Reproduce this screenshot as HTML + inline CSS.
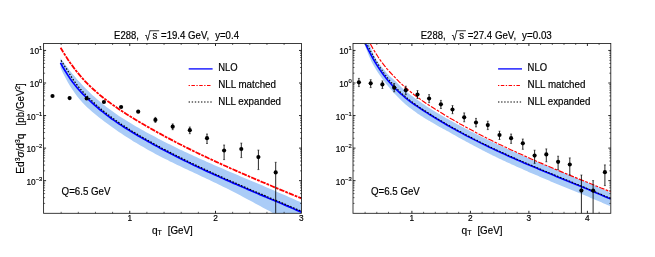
<!DOCTYPE html>
<html><head><meta charset="utf-8"><title>plot</title>
<style>html,body{margin:0;padding:0;background:#fff}svg{display:block}text{font-family:"Liberation Sans", sans-serif;fill:#000;stroke:#000;stroke-width:0.18px}</style>
</head><body>
<svg width="655" height="257" viewBox="0 0 655 257">
<rect width="655" height="257" fill="#fff"/>
<clipPath id="c1"><rect x="43.6" y="43.5" width="257.90" height="169.80"/></clipPath>
<clipPath id="c2"><rect x="353.0" y="43.5" width="257.80" height="169.80"/></clipPath>
<g clip-path="url(#c1)">
<path d="M60.6,58.2 L63.0,61.6 L65.5,64.9 L67.9,68.1 L70.3,71.2 L72.8,74.2 L75.2,77.1 L77.6,79.9 L80.1,82.6 L82.5,85.2 L84.9,87.8 L87.4,90.2 L89.8,92.6 L92.2,94.9 L94.7,97.1 L97.1,99.3 L99.5,101.3 L102.0,103.4 L104.4,105.3 L106.8,107.2 L109.3,109.0 L111.7,110.8 L114.1,112.6 L116.6,114.2 L119.0,115.9 L121.4,117.5 L123.9,119.1 L126.3,120.6 L128.7,122.1 L131.2,123.5 L133.6,125.0 L136.0,126.4 L138.5,127.8 L140.9,129.2 L143.3,130.5 L145.8,131.9 L148.2,133.2 L150.6,134.5 L153.1,135.8 L155.5,137.1 L157.9,138.4 L160.4,139.7 L162.8,140.9 L165.2,142.2 L167.7,143.4 L170.1,144.6 L172.5,145.8 L175.0,147.0 L177.4,148.2 L179.8,149.4 L182.3,150.5 L184.7,151.7 L187.1,152.8 L189.6,154.0 L192.0,155.1 L194.4,156.2 L196.9,157.3 L199.3,158.4 L201.7,159.5 L204.2,160.6 L206.6,161.7 L209.0,162.8 L211.5,163.8 L213.9,164.9 L216.3,166.0 L218.8,167.0 L221.2,168.1 L223.6,169.1 L226.1,170.2 L228.5,171.2 L230.9,172.2 L233.4,173.3 L235.8,174.3 L238.2,175.3 L240.7,176.4 L243.1,177.4 L245.5,178.4 L248.0,179.5 L250.4,180.5 L252.8,181.5 L255.3,182.5 L257.7,183.6 L260.1,184.6 L262.6,185.6 L265.0,186.7 L267.4,187.7 L269.9,188.7 L272.3,189.8 L274.7,190.8 L277.2,191.9 L279.6,192.9 L282.0,194.0 L284.5,195.0 L286.9,196.1 L289.3,197.2 L291.8,198.2 L294.2,199.3 L296.6,200.4 L299.1,201.5 L301.5,202.6 L301.5,227.9 L299.1,226.7 L296.6,225.5 L294.2,224.2 L291.8,223.0 L289.3,221.7 L286.9,220.4 L284.5,219.2 L282.0,217.9 L279.6,216.6 L277.2,215.3 L274.7,214.0 L272.3,212.7 L269.9,211.3 L267.4,210.0 L265.0,208.7 L262.6,207.4 L260.1,206.1 L257.7,204.7 L255.2,203.4 L252.8,202.1 L250.4,200.8 L247.9,199.5 L245.5,198.2 L243.1,196.9 L240.6,195.6 L238.2,194.3 L235.8,193.0 L233.3,191.8 L230.9,190.5 L228.5,189.3 L226.0,188.1 L223.6,186.9 L221.2,185.7 L218.7,184.5 L216.3,183.3 L213.9,182.2 L211.4,181.0 L209.0,179.8 L206.6,178.7 L204.1,177.5 L201.7,176.4 L199.3,175.3 L196.8,174.1 L194.4,173.0 L192.0,171.8 L189.5,170.7 L187.1,169.6 L184.7,168.4 L182.2,167.3 L179.8,166.1 L177.3,164.9 L174.9,163.7 L172.5,162.6 L170.0,161.4 L167.6,160.1 L165.2,158.9 L162.7,157.7 L160.3,156.4 L157.9,155.2 L155.4,153.9 L153.0,152.6 L150.6,151.2 L148.1,149.9 L145.7,148.5 L143.3,147.1 L140.8,145.7 L138.4,144.3 L136.0,142.8 L133.5,141.4 L131.1,139.8 L128.7,138.3 L126.2,136.7 L123.8,135.2 L121.4,133.5 L118.9,131.9 L116.5,130.2 L114.1,128.5 L111.6,126.8 L109.2,125.0 L106.8,123.2 L104.3,121.4 L101.9,119.6 L99.4,117.7 L97.0,115.7 L94.6,113.8 L92.1,111.7 L89.7,109.6 L87.3,107.4 L84.8,105.0 L82.4,102.4 L80.0,99.7 L77.5,96.7 L75.1,93.5 L72.7,90.0 L70.2,86.3 L67.8,82.2 L65.4,77.8 L62.9,73.0 L60.5,67.8Z" fill="#aaccf7"/>
<path d="M60.5,62.9 L62.9,67.2 L65.4,71.3 L67.8,75.1 L70.2,78.8 L72.7,82.2 L75.1,85.3 L77.5,88.2 L80.0,91.0 L82.4,93.6 L84.8,96.0 L87.3,98.4 L89.7,100.7 L92.1,102.9 L94.6,105.1 L97.0,107.2 L99.4,109.3 L101.9,111.2 L104.3,113.2 L106.8,115.1 L109.2,116.9 L111.6,118.7 L114.1,120.4 L116.5,122.1 L118.9,123.8 L121.4,125.4 L123.8,127.0 L126.2,128.5 L128.7,130.0 L131.1,131.5 L133.5,133.0 L136.0,134.5 L138.4,135.9 L140.8,137.3 L143.3,138.7 L145.7,140.1 L148.1,141.5 L150.6,142.8 L153.0,144.2 L155.4,145.5 L157.9,146.8 L160.3,148.2 L162.7,149.5 L165.2,150.7 L167.6,152.0 L170.0,153.3 L172.5,154.5 L174.9,155.8 L177.3,157.0 L179.8,158.2 L182.2,159.4 L184.7,160.7 L187.1,161.8 L189.5,163.0 L192.0,164.2 L194.4,165.4 L196.8,166.5 L199.3,167.7 L201.7,168.8 L204.1,170.0 L206.6,171.1 L209.0,172.2 L211.4,173.3 L213.9,174.4 L216.3,175.5 L218.7,176.6 L221.2,177.7 L223.6,178.8 L226.0,179.9 L228.5,180.9 L230.9,182.0 L233.3,183.1 L235.8,184.1 L238.2,185.2 L240.6,186.2 L243.1,187.3 L245.5,188.3 L247.9,189.4 L250.4,190.4 L252.8,191.5 L255.2,192.5 L257.7,193.5 L260.1,194.6 L262.6,195.6 L265.0,196.6 L267.4,197.7 L269.9,198.7 L272.3,199.7 L274.7,200.7 L277.2,201.8 L279.6,202.8 L282.0,203.8 L284.5,204.9 L286.9,205.9 L289.3,206.9 L291.8,208.0 L294.2,209.0 L296.6,210.1 L299.1,211.1 L301.5,212.1" fill="none" stroke="#0000ff" stroke-width="1.7"/>
<path d="M61.1,60.4 L61.8,61.8 L62.7,63.1 L63.5,64.4 L64.4,65.7 L65.2,67.0 L66.1,68.2 L66.9,69.4 L67.6,70.7 L68.4,71.9 L69.1,73.1 L69.8,74.3 L70.5,75.5 L71.2,76.6 L72.0,77.8 L72.7,78.9 L73.4,79.9 L74.1,81.0 L74.9,82.0 L75.6,83.0 L76.3,84.0 L77.0,84.9 L77.8,85.9 L78.5,86.8 L79.2,87.7 L80.0,88.6 L80.7,89.4 L81.5,90.3 L82.2,91.1 L83.0,91.9 L83.7,92.7 L84.5,93.5 L85.2,94.3 L86.0,95.0 L86.7,95.8 L87.5,96.6 L88.2,97.3 L89.0,98.0 L89.7,98.8 L90.5,99.5 L91.2,100.2 L92.0,100.9 L92.7,101.6 L93.5,102.3 L94.3,103.0 L95.0,103.7 L95.8,104.4 L96.5,105.1 L97.3,105.8 L98.0,106.4 L98.8,107.1 L99.5,107.7 L100.3,108.4 L101.0,109.0 L101.8,109.6 L102.5,110.3 L103.3,110.9 L104.1,111.5 L104.8,112.1 L105.6,112.7 L106.3,113.3 L107.1,113.9 L107.9,114.5 L108.6,115.1 L109.4,115.7 L110.1,116.3 L110.9,116.8 L111.6,117.4 L112.4,118.0 L113.2,118.5 L113.9,119.1 L114.7,119.6 L115.4,120.2 L116.2,120.7 L117.0,121.2 L117.7,121.8 L118.5,122.3 L119.2,122.8 L120.0,123.3 L120.8,123.8 L121.5,124.4 L122.3,124.9 L123.1,125.4 L123.8,125.9 L124.6,126.4 L125.4,126.9 L126.1,127.3 L126.9,127.8 L127.6,128.3 L128.4,128.8 L129.2,129.3 L129.9,129.8 L130.7,130.2 L131.5,130.7 L132.2,131.2 L133.0,131.6 L133.8,132.1 L134.5,132.6 L135.3,133.0 L136.1,133.5 L136.8,134.0 L137.6,134.4 L138.3,134.9 L139.1,135.3 L139.9,135.8 L140.6,136.2 L141.4,136.7 L142.2,137.1 L142.9,137.5 L143.7,138.0 L144.5,138.4 L145.2,138.9 L146.0,139.3 L146.8,139.7 L147.5,140.2 L148.3,140.6 L149.1,141.0 L149.8,141.5 L150.6,141.9 L151.4,142.3 L152.1,142.7 L152.9,143.2 L153.7,143.6 L154.4,144.0 L155.2,144.4 L156.0,144.9 L156.7,145.3 L157.5,145.7 L158.3,146.1 L159.1,146.5 L159.8,146.9 L160.6,147.3 L161.4,147.8 L162.1,148.2 L162.9,148.6 L163.7,149.0 L164.4,149.4 L165.2,149.8 L166.0,150.2 L166.7,150.6 L167.5,151.0 L168.3,151.4 L169.0,151.8 L169.8,152.2 L170.6,152.6 L171.3,153.0 L172.1,153.4 L172.9,153.8 L173.6,154.2 L174.4,154.6 L175.2,155.0 L175.9,155.3 L176.7,155.7 L177.5,156.1 L178.2,156.5 L179.0,156.9 L179.8,157.3 L180.5,157.7 L181.3,158.0 L182.1,158.4 L182.8,158.8 L183.6,159.2 L184.4,159.6 L185.1,159.9 L185.9,160.3 L186.7,160.7 L187.4,161.1 L188.2,161.4 L189.0,161.8 L189.7,162.2 L190.5,162.6 L191.3,162.9 L192.0,163.3 L192.8,163.7 L193.6,164.0 L194.3,164.4 L195.1,164.8 L195.9,165.1 L196.6,165.5 L197.4,165.9 L198.2,166.2 L198.9,166.6 L199.7,167.0 L200.5,167.3 L201.2,167.7 L202.0,168.0 L202.8,168.4 L203.6,168.7 L204.3,169.1 L205.1,169.5 L205.9,169.8 L206.6,170.2 L207.4,170.5 L208.2,170.9 L208.9,171.2 L209.7,171.6 L210.5,171.9 L211.2,172.3 L212.0,172.6 L212.8,173.0 L213.5,173.3 L214.3,173.7 L215.1,174.0 L215.8,174.4 L216.6,174.7 L217.4,175.1 L218.1,175.4 L218.9,175.8 L219.7,176.1 L220.4,176.4 L221.2,176.8 L222.0,177.1 L222.7,177.5 L223.5,177.8 L224.3,178.2 L225.0,178.5 L225.8,178.8 L226.6,179.2 L227.3,179.5 L228.1,179.9 L228.9,180.2 L229.6,180.5 L230.4,180.9 L231.2,181.2 L232.0,181.5 L232.7,181.9 L233.5,182.2 L234.3,182.5 L235.0,182.9 L235.8,183.2 L236.6,183.5 L237.3,183.9 L238.1,184.2 L238.9,184.5 L239.6,184.9 L240.4,185.2 L241.2,185.5 L241.9,185.9 L242.7,186.2 L243.5,186.5 L244.2,186.9 L245.0,187.2 L245.8,187.5 L246.5,187.8 L247.3,188.2 L248.1,188.5 L248.8,188.8 L249.6,189.2 L250.4,189.5 L251.1,189.8 L251.9,190.1 L252.7,190.5 L253.4,190.8 L254.2,191.1 L255.0,191.5 L255.8,191.8 L256.5,192.1 L257.3,192.4 L258.1,192.8 L258.8,193.1 L259.6,193.4 L260.4,193.7 L261.1,194.1 L261.9,194.4 L262.7,194.7 L263.4,195.0 L264.2,195.4 L265.0,195.7 L265.7,196.0 L266.5,196.3 L267.3,196.7 L268.0,197.0 L268.8,197.3 L269.6,197.6 L270.3,198.0 L271.1,198.3 L271.9,198.6 L272.6,198.9 L273.4,199.3 L274.2,199.6 L275.0,199.9 L275.7,200.2 L276.5,200.6 L277.3,200.9 L278.0,201.2 L278.8,201.5 L279.6,201.9 L280.3,202.2 L281.1,202.5 L281.9,202.8 L282.6,203.2 L283.4,203.5 L284.2,203.8 L284.9,204.1 L285.7,204.5 L286.5,204.8 L287.2,205.1 L288.0,205.5 L288.8,205.8 L289.5,206.1 L290.3,206.4 L291.1,206.8 L291.8,207.1 L292.6,207.4 L293.4,207.7 L294.2,208.1 L294.9,208.4 L295.7,208.7 L296.5,209.1 L297.2,209.4 L298.0,209.7 L298.8,210.0 L299.5,210.4 L300.3,210.7 L301.1,211.0 L301.8,211.4" fill="none" stroke="#000" stroke-width="1.25" stroke-dasharray="1.5 1.65"/>
<path d="M60.6,47.7 L63.0,51.8 L65.5,55.7 L67.9,59.5 L70.3,63.0 L72.8,66.4 L75.2,69.7 L77.6,72.7 L80.1,75.6 L82.5,78.4 L84.9,81.1 L87.4,83.6 L89.8,86.0 L92.2,88.3 L94.7,90.5 L97.1,92.6 L99.5,94.7 L102.0,96.7 L104.4,98.6 L106.8,100.5 L109.3,102.3 L111.7,104.1 L114.1,105.8 L116.6,107.5 L119.0,109.2 L121.4,110.8 L123.9,112.4 L126.3,114.0 L128.7,115.5 L131.2,117.0 L133.6,118.5 L136.0,120.0 L138.5,121.5 L140.9,122.9 L143.3,124.3 L145.8,125.7 L148.2,127.1 L150.6,128.5 L153.1,129.9 L155.5,131.2 L157.9,132.6 L160.4,133.9 L162.8,135.2 L165.2,136.6 L167.7,137.9 L170.1,139.1 L172.5,140.4 L175.0,141.7 L177.4,143.0 L179.8,144.2 L182.3,145.4 L184.7,146.7 L187.1,147.9 L189.6,149.1 L192.0,150.3 L194.4,151.5 L196.9,152.7 L199.3,153.9 L201.7,155.0 L204.2,156.2 L206.6,157.3 L209.0,158.5 L211.5,159.6 L213.9,160.7 L216.3,161.9 L218.8,163.0 L221.2,164.1 L223.6,165.2 L226.1,166.3 L228.5,167.4 L230.9,168.5 L233.4,169.5 L235.8,170.6 L238.2,171.7 L240.7,172.8 L243.1,173.8 L245.5,174.9 L248.0,175.9 L250.4,177.0 L252.8,178.0 L255.3,179.1 L257.7,180.1 L260.1,181.1 L262.6,182.2 L265.0,183.2 L267.4,184.2 L269.9,185.2 L272.3,186.3 L274.7,187.3 L277.2,188.3 L279.6,189.3 L282.0,190.3 L284.5,191.3 L286.9,192.4 L289.3,193.4 L291.8,194.4 L294.2,195.4 L296.6,196.4 L299.1,197.4 L301.5,198.4" fill="none" stroke="#ff0000" stroke-width="1.8" stroke-dasharray="5.4 1.0 2.8 1.0"/>
</g>
<g clip-path="url(#c1)"><circle cx="52.5" cy="96.0" r="2.08" fill="#000"/><circle cx="69.6" cy="98.1" r="2.08" fill="#000"/><circle cx="86.7" cy="98.4" r="2.08" fill="#000"/><circle cx="103.9" cy="102.0" r="2.08" fill="#000"/><circle cx="121.1" cy="107.0" r="2.08" fill="#000"/><circle cx="138.2" cy="111.7" r="2.08" fill="#000"/><path d="M155.4,117.4V122.4" stroke="#000" stroke-width="0.85"/><path d="M154.4,117.4h2M154.4,122.4h2" stroke="#000" stroke-width="0.55"/><circle cx="155.4" cy="119.9" r="2.08" fill="#000"/><path d="M172.7,123.9V129.7" stroke="#000" stroke-width="0.85"/><path d="M171.7,123.9h2M171.7,129.7h2" stroke="#000" stroke-width="0.55"/><circle cx="172.7" cy="126.7" r="2.08" fill="#000"/><path d="M189.8,127.0V133.7" stroke="#000" stroke-width="0.85"/><path d="M188.8,127.0h2M188.8,133.7h2" stroke="#000" stroke-width="0.55"/><circle cx="189.8" cy="130.2" r="2.08" fill="#000"/><path d="M207.0,134.0V143.5" stroke="#000" stroke-width="0.85"/><path d="M206.0,134.0h2M206.0,143.5h2" stroke="#000" stroke-width="0.55"/><circle cx="207.0" cy="138.2" r="2.08" fill="#000"/><path d="M224.1,145.0V159.6" stroke="#000" stroke-width="0.85"/><path d="M223.1,145.0h2M223.1,159.6h2" stroke="#000" stroke-width="0.55"/><circle cx="224.1" cy="150.5" r="2.08" fill="#000"/><path d="M241.3,143.1V157.6" stroke="#000" stroke-width="0.85"/><path d="M240.3,143.1h2M240.3,157.6h2" stroke="#000" stroke-width="0.55"/><circle cx="241.3" cy="149.0" r="2.08" fill="#000"/><path d="M258.4,150.1V169.6" stroke="#000" stroke-width="0.85"/><path d="M257.4,150.1h2M257.4,169.6h2" stroke="#000" stroke-width="0.55"/><circle cx="258.4" cy="157.1" r="2.08" fill="#000"/><path d="M275.7,162.3V230.0" stroke="#000" stroke-width="0.85"/><path d="M274.7,162.3h2M274.7,230.0h2" stroke="#000" stroke-width="0.55"/><circle cx="275.7" cy="172.4" r="2.08" fill="#000"/></g>
<rect x="43.6" y="43.5" width="257.90" height="169.80" fill="none" stroke="#1a1a1a" stroke-width="0.85"/>
<path d="M129.75,213.3v-2.5M129.75,43.5v2.5M215.50,213.3v-2.5M215.50,43.5v2.5M43.6,180.65h2.5M301.5,180.65h-2.5M43.6,148.10h2.5M301.5,148.10h-2.5M43.6,115.55h2.5M301.5,115.55h-2.5M43.6,83.00h2.5M301.5,83.00h-2.5M43.6,50.45h2.5M301.5,50.45h-2.5" stroke="#000" stroke-width="0.85" fill="none"/>
<path d="M61.15,213.3v-1.5M61.15,43.5v1.5M78.30,213.3v-1.5M78.30,43.5v1.5M95.45,213.3v-1.5M95.45,43.5v1.5M112.60,213.3v-1.5M112.60,43.5v1.5M146.90,213.3v-1.5M146.90,43.5v1.5M164.05,213.3v-1.5M164.05,43.5v1.5M181.20,213.3v-1.5M181.20,43.5v1.5M198.35,213.3v-1.5M198.35,43.5v1.5M232.65,213.3v-1.5M232.65,43.5v1.5M249.80,213.3v-1.5M249.80,43.5v1.5M266.95,213.3v-1.5M266.95,43.5v1.5M284.10,213.3v-1.5M284.10,43.5v1.5M43.6,203.40h1.5M301.5,203.40h-1.5M43.6,197.67h1.5M301.5,197.67h-1.5M43.6,193.60h1.5M301.5,193.60h-1.5M43.6,190.45h1.5M301.5,190.45h-1.5M43.6,187.87h1.5M301.5,187.87h-1.5M43.6,185.69h1.5M301.5,185.69h-1.5M43.6,183.80h1.5M301.5,183.80h-1.5M43.6,182.14h1.5M301.5,182.14h-1.5M43.6,170.85h1.5M301.5,170.85h-1.5M43.6,165.12h1.5M301.5,165.12h-1.5M43.6,161.05h1.5M301.5,161.05h-1.5M43.6,157.90h1.5M301.5,157.90h-1.5M43.6,155.32h1.5M301.5,155.32h-1.5M43.6,153.14h1.5M301.5,153.14h-1.5M43.6,151.25h1.5M301.5,151.25h-1.5M43.6,149.59h1.5M301.5,149.59h-1.5M43.6,138.30h1.5M301.5,138.30h-1.5M43.6,132.57h1.5M301.5,132.57h-1.5M43.6,128.50h1.5M301.5,128.50h-1.5M43.6,125.35h1.5M301.5,125.35h-1.5M43.6,122.77h1.5M301.5,122.77h-1.5M43.6,120.59h1.5M301.5,120.59h-1.5M43.6,118.70h1.5M301.5,118.70h-1.5M43.6,117.04h1.5M301.5,117.04h-1.5M43.6,105.75h1.5M301.5,105.75h-1.5M43.6,100.02h1.5M301.5,100.02h-1.5M43.6,95.95h1.5M301.5,95.95h-1.5M43.6,92.80h1.5M301.5,92.80h-1.5M43.6,90.22h1.5M301.5,90.22h-1.5M43.6,88.04h1.5M301.5,88.04h-1.5M43.6,86.15h1.5M301.5,86.15h-1.5M43.6,84.49h1.5M301.5,84.49h-1.5M43.6,73.20h1.5M301.5,73.20h-1.5M43.6,67.47h1.5M301.5,67.47h-1.5M43.6,63.40h1.5M301.5,63.40h-1.5M43.6,60.25h1.5M301.5,60.25h-1.5M43.6,57.67h1.5M301.5,57.67h-1.5M43.6,55.49h1.5M301.5,55.49h-1.5M43.6,53.60h1.5M301.5,53.60h-1.5M43.6,51.94h1.5M301.5,51.94h-1.5" stroke="#000" stroke-width="0.6" fill="none"/>
<text x="129.8" y="220.9" font-size="8.3" text-anchor="middle">1</text>
<text x="215.5" y="220.9" font-size="8.3" text-anchor="middle">2</text>
<text x="301.2" y="220.9" font-size="8.3" text-anchor="middle">3</text>
<text x="42.3" y="53.9" font-size="8.3" text-anchor="end">10<tspan dy="-3.9" font-size="5.8">1</tspan></text>
<text x="42.3" y="87.0" font-size="8.3" text-anchor="end">10<tspan dy="-3.9" font-size="5.8">0</tspan></text>
<text x="42.3" y="119.9" font-size="8.3" text-anchor="end">10<tspan dy="-3.9" font-size="5.8">−1</tspan></text>
<text x="42.3" y="152.0" font-size="8.3" text-anchor="end">10<tspan dy="-3.9" font-size="5.8">−2</tspan></text>
<text x="42.3" y="184.9" font-size="8.3" text-anchor="end">10<tspan dy="-3.9" font-size="5.8">−3</tspan></text>
<path d="M188.7,68.9H212.6" stroke="#0000ff" stroke-width="1.3"/>
<path d="M188.6,85.5H211.5" stroke="#ff0000" stroke-width="1.2" stroke-dasharray="1.3 1.5 3.5 1.5"/>
<path d="M188.6,102H212.1" stroke="#000" stroke-width="1.2" stroke-dasharray="1.4 1.7"/>
<text x="218.2" y="71.3" font-size="10.1" textLength="19.4" lengthAdjust="spacingAndGlyphs">NLO</text>
<text x="218.2" y="87.8" font-size="10.1" textLength="57.8" lengthAdjust="spacingAndGlyphs">NLL matched</text>
<text x="218.2" y="104.8" font-size="10.1" textLength="62.8" lengthAdjust="spacingAndGlyphs">NLL expanded</text>
<text x="114.1" y="39.4" font-size="10.1" textLength="24.8" lengthAdjust="spacingAndGlyphs">E288,</text>
<text transform="translate(145.05,39.95) scale(0.8,1)" font-size="12">√</text>
<path d="M149.6,30.75H159.2" stroke="#000" stroke-width="0.8"/>
<text x="152.6" y="39.4" font-size="10.1" textLength="4.8" lengthAdjust="spacingAndGlyphs">s</text>
<text x="161.0" y="39.4" font-size="10.1" textLength="48.2" lengthAdjust="spacingAndGlyphs">=19.4 GeV,</text>
<text x="215.2" y="39.4" font-size="10.1" textLength="23.8" lengthAdjust="spacingAndGlyphs">y=0.4</text>
<text x="151.9" y="234.1" font-size="10.1">q<tspan dy="1.0" font-size="7">T</tspan></text>
<text x="167.8" y="234.1" font-size="10.1" textLength="25" lengthAdjust="spacingAndGlyphs">[GeV]</text>
<text x="61.6" y="194.6" font-size="10.1" textLength="48.8" lengthAdjust="spacingAndGlyphs">Q=6.5 GeV</text>
<text transform="translate(23.8,173.7) rotate(-90)" font-size="10.1" textLength="40.1" lengthAdjust="spacingAndGlyphs">Ed<tspan dy="-3.6" font-size="6.7">3</tspan><tspan dy="3.6" font-style="italic">σ</tspan>/d<tspan dy="-3.6" font-size="6.7">3</tspan><tspan dy="3.6">q</tspan></text>
<text transform="translate(23.8,125.4) rotate(-90)" font-size="10.1" textLength="42.2" lengthAdjust="spacingAndGlyphs">[pb/GeV<tspan dy="-3.6" font-size="6.7">2</tspan><tspan dy="3.6">]</tspan></text>
<g clip-path="url(#c2)">
<path d="M369.2,43.4 L370.4,46.7 L371.6,49.8 L372.8,52.7 L374.0,55.4 L375.3,57.8 L376.5,59.9 L377.7,61.8 L378.9,63.5 L380.1,65.0 L381.3,66.5 L382.5,67.9 L383.7,69.3 L384.9,70.8 L386.1,72.2 L387.4,73.7 L388.6,75.0 L389.8,76.3 L391.0,77.3 L392.2,78.3 L393.4,79.3 L394.6,80.4 L395.8,81.6 L397.0,82.8 L398.2,84.1 L399.5,85.3 L400.7,86.6 L401.9,87.7 L403.1,88.8 L404.3,89.9 L405.5,90.9 L406.7,91.9 L407.9,92.9 L409.1,93.8 L410.3,94.8 L411.6,95.7 L412.8,96.6 L414.0,97.5 L415.2,98.4 L416.4,99.3 L417.6,100.1 L418.8,101.0 L420.0,101.8 L421.2,102.6 L422.4,103.5 L423.7,104.3 L424.9,105.1 L426.1,105.9 L427.3,106.7 L428.5,107.5 L429.7,108.2 L430.9,109.0 L432.1,109.8 L433.3,110.5 L434.5,111.3 L435.8,112.0 L437.0,112.7 L438.2,113.4 L439.4,114.1 L440.6,114.9 L441.8,115.6 L443.0,116.3 L444.2,117.0 L445.4,117.7 L446.6,118.4 L447.9,119.0 L449.1,119.7 L450.3,120.4 L451.5,121.1 L452.7,121.8 L453.9,122.4 L455.1,123.1 L456.3,123.7 L457.5,124.4 L458.7,125.0 L460.0,125.7 L461.2,126.3 L462.4,127.0 L463.6,127.6 L464.8,128.3 L466.0,128.9 L467.2,129.5 L468.4,130.1 L469.6,130.8 L470.8,131.4 L472.1,132.0 L473.3,132.6 L474.5,133.2 L475.7,133.8 L476.9,134.5 L478.1,135.1 L479.3,135.7 L480.5,136.3 L481.7,136.9 L482.9,137.5 L484.2,138.1 L485.4,138.6 L486.6,139.2 L487.8,139.8 L489.0,140.4 L490.2,141.0 L491.4,141.6 L492.6,142.1 L493.8,142.7 L495.0,143.3 L496.3,143.8 L497.5,144.4 L498.7,145.0 L499.9,145.5 L501.1,146.1 L502.3,146.6 L503.5,147.2 L504.7,147.7 L505.9,148.3 L507.1,148.8 L508.4,149.4 L509.6,149.9 L510.8,150.4 L512.0,151.0 L513.2,151.5 L514.4,152.1 L515.6,152.6 L516.8,153.1 L518.0,153.6 L519.2,154.2 L520.5,154.7 L521.7,155.2 L522.9,155.7 L524.1,156.3 L525.3,156.8 L526.5,157.3 L527.7,157.8 L528.9,158.3 L530.1,158.9 L531.3,159.4 L532.6,159.9 L533.8,160.4 L535.0,160.9 L536.2,161.4 L537.4,161.9 L538.6,162.5 L539.8,163.0 L541.0,163.5 L542.2,164.0 L543.4,164.5 L544.7,165.0 L545.9,165.5 L547.1,166.0 L548.3,166.5 L549.5,167.0 L550.7,167.5 L551.9,168.0 L553.1,168.5 L554.3,169.0 L555.5,169.5 L556.8,170.0 L558.0,170.5 L559.2,171.0 L560.4,171.5 L561.6,172.0 L562.8,172.5 L564.0,173.0 L565.2,173.5 L566.4,174.0 L567.6,174.5 L568.9,175.0 L570.1,175.5 L571.3,176.0 L572.5,176.5 L573.7,177.0 L574.9,177.5 L576.1,178.0 L577.3,178.5 L578.5,179.0 L579.7,179.5 L581.0,180.0 L582.2,180.5 L583.4,181.0 L584.6,181.5 L585.8,182.0 L587.0,182.5 L588.2,183.1 L589.4,183.6 L590.6,184.1 L591.8,184.6 L593.1,185.1 L594.3,185.6 L595.5,186.1 L596.7,186.6 L597.9,187.1 L599.1,187.7 L600.3,188.2 L601.5,188.7 L602.7,189.2 L603.9,189.7 L605.2,190.3 L606.4,190.8 L607.6,191.3 L608.8,191.8 L610.0,192.4 L610.0,206.1 L608.8,205.5 L607.5,205.0 L606.3,204.5 L605.1,203.9 L603.8,203.4 L602.6,202.9 L601.4,202.3 L600.1,201.8 L598.9,201.3 L597.7,200.8 L596.4,200.2 L595.2,199.7 L593.9,199.2 L592.7,198.7 L591.5,198.2 L590.2,197.7 L589.0,197.1 L587.8,196.6 L586.5,196.1 L585.3,195.6 L584.1,195.1 L582.8,194.6 L581.6,194.1 L580.4,193.5 L579.1,193.0 L577.9,192.5 L576.7,192.0 L575.4,191.5 L574.2,191.0 L573.0,190.5 L571.7,190.0 L570.5,189.5 L569.3,189.0 L568.0,188.5 L566.8,188.0 L565.6,187.5 L564.3,186.9 L563.1,186.4 L561.8,185.9 L560.6,185.4 L559.4,184.9 L558.1,184.4 L556.9,183.9 L555.7,183.4 L554.4,182.9 L553.2,182.4 L552.0,181.9 L550.7,181.4 L549.5,180.8 L548.3,180.3 L547.0,179.8 L545.8,179.3 L544.6,178.8 L543.3,178.2 L542.1,177.7 L540.9,177.2 L539.6,176.7 L538.4,176.1 L537.2,175.6 L535.9,175.1 L534.7,174.5 L533.5,174.0 L532.2,173.5 L531.0,172.9 L529.7,172.4 L528.5,171.9 L527.3,171.3 L526.0,170.8 L524.8,170.2 L523.6,169.7 L522.3,169.1 L521.1,168.6 L519.9,168.0 L518.6,167.5 L517.4,166.9 L516.2,166.4 L514.9,165.8 L513.7,165.3 L512.5,164.7 L511.2,164.2 L510.0,163.6 L508.8,163.0 L507.5,162.5 L506.3,161.9 L505.1,161.3 L503.8,160.7 L502.6,160.2 L501.3,159.6 L500.1,159.0 L498.9,158.4 L497.6,157.8 L496.4,157.2 L495.2,156.6 L493.9,156.0 L492.7,155.4 L491.5,154.8 L490.2,154.2 L489.0,153.5 L487.8,152.9 L486.5,152.3 L485.3,151.7 L484.1,151.0 L482.8,150.4 L481.6,149.8 L480.4,149.1 L479.1,148.5 L477.9,147.8 L476.7,147.2 L475.4,146.5 L474.2,145.9 L473.0,145.2 L471.7,144.6 L470.5,143.9 L469.2,143.3 L468.0,142.6 L466.8,141.9 L465.5,141.3 L464.3,140.6 L463.1,139.9 L461.8,139.3 L460.6,138.6 L459.4,137.9 L458.1,137.2 L456.9,136.5 L455.7,135.8 L454.4,135.1 L453.2,134.4 L452.0,133.7 L450.7,133.0 L449.5,132.3 L448.3,131.6 L447.0,131.0 L445.8,130.3 L444.6,129.6 L443.3,128.9 L442.1,128.3 L440.8,127.6 L439.6,126.9 L438.4,126.2 L437.1,125.5 L435.9,124.7 L434.7,124.0 L433.4,123.3 L432.2,122.6 L431.0,121.9 L429.7,121.1 L428.5,120.4 L427.3,119.7 L426.0,118.9 L424.8,118.2 L423.6,117.4 L422.3,116.6 L421.1,115.9 L419.9,115.1 L418.6,114.2 L417.4,113.4 L416.2,112.5 L414.9,111.6 L413.7,110.7 L412.5,109.8 L411.2,108.8 L410.0,107.9 L408.7,106.9 L407.5,105.9 L406.3,104.9 L405.0,103.9 L403.8,102.8 L402.6,101.7 L401.3,100.5 L400.1,99.3 L398.9,98.1 L397.6,96.8 L396.4,95.6 L395.2,94.2 L393.9,92.9 L392.7,91.5 L391.5,90.1 L390.2,88.7 L389.0,87.2 L387.8,85.7 L386.5,84.2 L385.3,82.7 L384.1,81.1 L382.8,79.5 L381.6,77.7 L380.4,75.9 L379.1,74.2 L377.9,72.4 L376.6,70.6 L375.4,68.5 L374.2,66.5 L372.9,64.2 L371.7,61.9 L370.5,59.3 L369.2,56.5 L368.0,53.5 L366.8,50.3 L365.5,47.0 L364.3,43.4Z" fill="#aaccf7"/>
<path d="M365.6,44.2 L368.1,49.4 L370.6,54.2 L373.0,58.7 L375.5,62.9 L378.0,66.9 L380.5,70.6 L382.9,74.0 L385.4,77.3 L387.9,80.4 L390.4,83.3 L392.8,86.0 L395.3,88.6 L397.8,91.0 L400.3,93.3 L402.8,95.5 L405.2,97.6 L407.7,99.6 L410.2,101.5 L412.7,103.3 L415.1,105.0 L417.6,106.7 L420.1,108.4 L422.6,110.0 L425.0,111.6 L427.5,113.2 L430.0,114.8 L432.5,116.3 L434.9,117.8 L437.4,119.3 L439.9,120.8 L442.4,122.3 L444.9,123.7 L447.3,125.2 L449.8,126.6 L452.3,128.0 L454.8,129.4 L457.2,130.7 L459.7,132.1 L462.2,133.4 L464.7,134.8 L467.1,136.1 L469.6,137.3 L472.1,138.6 L474.6,139.9 L477.1,141.1 L479.5,142.4 L482.0,143.6 L484.5,144.8 L487.0,146.0 L489.4,147.2 L491.9,148.4 L494.4,149.6 L496.9,150.7 L499.3,151.9 L501.8,153.0 L504.3,154.1 L506.8,155.3 L509.3,156.4 L511.7,157.5 L514.2,158.6 L516.7,159.7 L519.2,160.7 L521.6,161.8 L524.1,162.9 L526.6,163.9 L529.1,165.0 L531.5,166.0 L534.0,167.1 L536.5,168.1 L539.0,169.2 L541.5,170.2 L543.9,171.2 L546.4,172.3 L548.9,173.3 L551.4,174.3 L553.8,175.3 L556.3,176.4 L558.8,177.4 L561.3,178.4 L563.7,179.4 L566.2,180.4 L568.7,181.4 L571.2,182.5 L573.6,183.5 L576.1,184.5 L578.6,185.5 L581.1,186.5 L583.6,187.6 L586.0,188.6 L588.5,189.6 L591.0,190.7 L593.5,191.7 L595.9,192.7 L598.4,193.8 L600.9,194.8 L603.4,195.9 L605.8,197.0 L608.3,198.0 L610.8,199.1" fill="none" stroke="#0000ff" stroke-width="1.6"/>
<path d="M361.3,30.7 L362.2,32.8 L363.0,34.8 L363.9,36.7 L364.7,38.7 L365.5,40.5 L366.4,42.4 L367.2,44.2 L368.0,45.9 L368.9,47.6 L369.7,49.3 L370.5,51.0 L371.4,52.6 L372.2,54.1 L373.0,55.7 L373.9,57.2 L374.7,58.6 L375.5,60.1 L376.4,61.5 L377.2,62.8 L378.0,64.2 L378.9,65.5 L379.7,66.8 L380.5,68.0 L381.4,69.2 L382.2,70.5 L383.0,71.6 L383.8,72.8 L384.6,73.9 L385.4,75.0 L386.3,76.1 L387.1,77.2 L387.9,78.2 L388.7,79.3 L389.5,80.3 L390.4,81.3 L391.2,82.2 L392.0,83.2 L392.8,84.1 L393.6,85.0 L394.4,85.9 L395.2,86.8 L396.0,87.7 L396.9,88.5 L397.7,89.4 L398.5,90.2 L399.3,91.0 L400.1,91.8 L400.9,92.6 L401.8,93.3 L402.6,94.1 L403.4,94.8 L404.2,95.5 L405.0,96.2 L405.9,96.9 L406.7,97.6 L407.5,98.3 L408.3,99.0 L409.2,99.6 L410.0,100.3 L410.8,100.9 L411.6,101.5 L412.5,102.2 L413.3,102.8 L414.1,103.4 L415.0,104.0 L415.8,104.6 L416.6,105.2 L417.4,105.8 L418.3,106.3 L419.1,106.9 L419.9,107.5 L420.8,108.0 L421.6,108.6 L422.4,109.1 L423.3,109.7 L424.1,110.2 L424.9,110.8 L425.8,111.3 L426.6,111.9 L427.5,112.4 L428.3,112.9 L429.1,113.5 L430.0,114.0 L430.8,114.5 L431.6,115.0 L432.5,115.6 L433.3,116.1 L434.2,116.6 L435.0,117.1 L435.8,117.6 L436.7,118.1 L437.5,118.6 L438.3,119.1 L439.2,119.6 L440.0,120.1 L440.9,120.6 L441.7,121.1 L442.5,121.6 L443.4,122.1 L444.2,122.6 L445.0,123.1 L445.9,123.6 L446.7,124.1 L447.6,124.6 L448.4,125.0 L449.2,125.5 L450.1,126.0 L450.9,126.5 L451.7,127.0 L452.6,127.4 L453.4,127.9 L454.3,128.4 L455.1,128.8 L455.9,129.3 L456.8,129.8 L457.6,130.2 L458.4,130.7 L459.3,131.1 L460.1,131.6 L461.0,132.0 L461.8,132.5 L462.6,132.9 L463.5,133.4 L464.3,133.8 L465.1,134.3 L466.0,134.7 L466.8,135.2 L467.7,135.6 L468.5,136.0 L469.3,136.5 L470.2,136.9 L471.0,137.3 L471.9,137.8 L472.7,138.2 L473.5,138.6 L474.4,139.1 L475.2,139.5 L476.0,139.9 L476.9,140.3 L477.7,140.8 L478.6,141.2 L479.4,141.6 L480.2,142.0 L481.1,142.4 L481.9,142.8 L482.7,143.3 L483.6,143.7 L484.4,144.1 L485.3,144.5 L486.1,144.9 L486.9,145.3 L487.8,145.7 L488.6,146.1 L489.4,146.5 L490.3,146.9 L491.1,147.3 L492.0,147.7 L492.8,148.1 L493.6,148.5 L494.5,148.9 L495.3,149.3 L496.2,149.7 L497.0,150.1 L497.8,150.5 L498.7,150.9 L499.5,151.2 L500.3,151.6 L501.2,152.0 L502.0,152.4 L502.9,152.8 L503.7,153.2 L504.5,153.5 L505.4,153.9 L506.2,154.3 L507.0,154.7 L507.9,155.1 L508.7,155.4 L509.6,155.8 L510.4,156.2 L511.2,156.6 L512.1,156.9 L512.9,157.3 L513.8,157.7 L514.6,158.0 L515.4,158.4 L516.3,158.8 L517.1,159.2 L517.9,159.5 L518.8,159.9 L519.6,160.3 L520.5,160.6 L521.3,161.0 L522.1,161.3 L523.0,161.7 L523.8,162.1 L524.6,162.4 L525.5,162.8 L526.3,163.1 L527.2,163.5 L528.0,163.9 L528.8,164.2 L529.7,164.6 L530.5,164.9 L531.4,165.3 L532.2,165.6 L533.0,166.0 L533.9,166.4 L534.7,166.7 L535.5,167.1 L536.4,167.4 L537.2,167.8 L538.1,168.1 L538.9,168.5 L539.7,168.8 L540.6,169.2 L541.4,169.5 L542.3,169.9 L543.1,170.2 L543.9,170.6 L544.8,170.9 L545.6,171.3 L546.4,171.6 L547.3,172.0 L548.1,172.3 L549.0,172.7 L549.8,173.0 L550.6,173.4 L551.5,173.7 L552.3,174.0 L553.2,174.4 L554.0,174.7 L554.8,175.1 L555.7,175.4 L556.5,175.8 L557.4,176.1 L558.2,176.5 L559.0,176.8 L559.9,177.2 L560.7,177.5 L561.5,177.8 L562.4,178.2 L563.2,178.5 L564.1,178.9 L564.9,179.2 L565.7,179.6 L566.6,179.9 L567.4,180.3 L568.3,180.6 L569.1,180.9 L569.9,181.3 L570.8,181.6 L571.6,182.0 L572.4,182.3 L573.3,182.7 L574.1,183.0 L575.0,183.4 L575.8,183.7 L576.6,184.1 L577.5,184.4 L578.3,184.7 L579.2,185.1 L580.0,185.4 L580.8,185.8 L581.7,186.1 L582.5,186.5 L583.4,186.8 L584.2,187.2 L585.0,187.5 L585.9,187.9 L586.7,188.2 L587.5,188.6 L588.4,188.9 L589.2,189.3 L590.1,189.6 L590.9,190.0 L591.7,190.3 L592.6,190.7 L593.4,191.0 L594.3,191.4 L595.1,191.7 L595.9,192.1 L596.8,192.4 L597.6,192.8 L598.5,193.2 L599.3,193.5 L600.1,193.9 L601.0,194.2 L601.8,194.6 L602.6,194.9 L603.5,195.3 L604.3,195.7 L605.2,196.0 L606.0,196.4 L606.8,196.7 L607.7,197.1 L608.5,197.5 L609.4,197.8 L610.2,198.2 L611.0,198.6" fill="none" stroke="#000" stroke-width="1.05" stroke-dasharray="1.5 1.65"/>
<path d="M370.4,44.0 L372.8,48.4 L375.3,52.5 L377.7,56.3 L380.1,59.9 L382.5,63.2 L385.0,66.3 L387.4,69.3 L389.8,72.0 L392.3,74.7 L394.7,77.2 L397.1,79.7 L399.5,82.1 L402.0,84.4 L404.4,86.6 L406.8,88.7 L409.3,90.8 L411.7,92.7 L414.1,94.7 L416.5,96.5 L419.0,98.3 L421.4,100.1 L423.8,101.7 L426.3,103.4 L428.7,105.0 L431.1,106.6 L433.5,108.1 L436.0,109.6 L438.4,111.1 L440.8,112.6 L443.2,114.1 L445.7,115.6 L448.1,117.0 L450.5,118.4 L453.0,119.8 L455.4,121.2 L457.8,122.6 L460.2,124.0 L462.7,125.3 L465.1,126.7 L467.5,128.0 L470.0,129.3 L472.4,130.6 L474.8,131.9 L477.2,133.2 L479.7,134.5 L482.1,135.7 L484.5,136.9 L487.0,138.2 L489.4,139.4 L491.8,140.6 L494.2,141.8 L496.7,143.0 L499.1,144.2 L501.5,145.3 L504.0,146.5 L506.4,147.6 L508.8,148.8 L511.2,149.9 L513.7,151.0 L516.1,152.1 L518.5,153.3 L521.0,154.3 L523.4,155.4 L525.8,156.5 L528.2,157.6 L530.7,158.7 L533.1,159.7 L535.5,160.8 L538.0,161.8 L540.4,162.9 L542.8,163.9 L545.2,165.0 L547.7,166.0 L550.1,167.0 L552.5,168.0 L554.9,169.1 L557.4,170.1 L559.8,171.1 L562.2,172.1 L564.7,173.1 L567.1,174.1 L569.5,175.1 L571.9,176.1 L574.4,177.1 L576.8,178.1 L579.2,179.1 L581.7,180.1 L584.1,181.0 L586.5,182.0 L588.9,183.0 L591.4,184.0 L593.8,185.0 L596.2,186.0 L598.7,187.0 L601.1,188.0 L603.5,188.9 L605.9,189.9 L608.4,190.9 L610.8,191.9" fill="none" stroke="#ff0000" stroke-width="1.15" stroke-dasharray="5.6 1.3 2.8 1.3"/>
</g>
<g clip-path="url(#c2)"><path d="M358.9,78.4V86.6" stroke="#000" stroke-width="0.85"/><path d="M357.9,78.4h2M357.9,86.6h2" stroke="#000" stroke-width="0.55"/><circle cx="358.9" cy="82.3" r="2.08" fill="#000"/><path d="M370.7,79.7V87.6" stroke="#000" stroke-width="0.85"/><path d="M369.7,79.7h2M369.7,87.6h2" stroke="#000" stroke-width="0.55"/><circle cx="370.7" cy="83.3" r="2.08" fill="#000"/><path d="M382.4,80.9V88.5" stroke="#000" stroke-width="0.85"/><path d="M381.4,80.9h2M381.4,88.5h2" stroke="#000" stroke-width="0.55"/><circle cx="382.4" cy="84.4" r="2.08" fill="#000"/><path d="M394.2,83.5V91.8" stroke="#000" stroke-width="0.85"/><path d="M393.2,83.5h2M393.2,91.8h2" stroke="#000" stroke-width="0.55"/><circle cx="394.2" cy="87.7" r="2.08" fill="#000"/><path d="M405.8,86.2V94.6" stroke="#000" stroke-width="0.85"/><path d="M404.8,86.2h2M404.8,94.6h2" stroke="#000" stroke-width="0.55"/><circle cx="405.8" cy="90.2" r="2.08" fill="#000"/><path d="M417.5,90.6V98.5" stroke="#000" stroke-width="0.85"/><path d="M416.5,90.6h2M416.5,98.5h2" stroke="#000" stroke-width="0.55"/><circle cx="417.5" cy="94.5" r="2.08" fill="#000"/><path d="M429.1,94.6V102.7" stroke="#000" stroke-width="0.85"/><path d="M428.1,94.6h2M428.1,102.7h2" stroke="#000" stroke-width="0.55"/><circle cx="429.1" cy="98.5" r="2.08" fill="#000"/><path d="M440.9,100.4V108.5" stroke="#000" stroke-width="0.85"/><path d="M439.9,100.4h2M439.9,108.5h2" stroke="#000" stroke-width="0.55"/><circle cx="440.9" cy="104.3" r="2.08" fill="#000"/><path d="M452.5,105.6V113.7" stroke="#000" stroke-width="0.85"/><path d="M451.5,105.6h2M451.5,113.7h2" stroke="#000" stroke-width="0.55"/><circle cx="452.5" cy="109.5" r="2.08" fill="#000"/><path d="M464.2,112.9V121.8" stroke="#000" stroke-width="0.85"/><path d="M463.2,112.9h2M463.2,121.8h2" stroke="#000" stroke-width="0.55"/><circle cx="464.2" cy="117.3" r="2.08" fill="#000"/><path d="M476.0,118.4V126.9" stroke="#000" stroke-width="0.85"/><path d="M475.0,118.4h2M475.0,126.9h2" stroke="#000" stroke-width="0.55"/><circle cx="476.0" cy="122.5" r="2.08" fill="#000"/><path d="M487.8,121.2V129.6" stroke="#000" stroke-width="0.85"/><path d="M486.8,121.2h2M486.8,129.6h2" stroke="#000" stroke-width="0.55"/><circle cx="487.8" cy="125.1" r="2.08" fill="#000"/><path d="M499.5,131.2V139.5" stroke="#000" stroke-width="0.85"/><path d="M498.5,131.2h2M498.5,139.5h2" stroke="#000" stroke-width="0.55"/><circle cx="499.5" cy="135.0" r="2.08" fill="#000"/><path d="M511.1,134.0V143.4" stroke="#000" stroke-width="0.85"/><path d="M510.1,134.0h2M510.1,143.4h2" stroke="#000" stroke-width="0.55"/><circle cx="511.1" cy="138.2" r="2.08" fill="#000"/><path d="M522.8,139.0V149.3" stroke="#000" stroke-width="0.85"/><path d="M521.8,139.0h2M521.8,149.3h2" stroke="#000" stroke-width="0.55"/><circle cx="522.8" cy="143.3" r="2.08" fill="#000"/><path d="M534.6,150.2V163.4" stroke="#000" stroke-width="0.85"/><path d="M533.6,150.2h2M533.6,163.4h2" stroke="#000" stroke-width="0.55"/><circle cx="534.6" cy="155.6" r="2.08" fill="#000"/><path d="M546.3,148.9V161.8" stroke="#000" stroke-width="0.85"/><path d="M545.3,148.9h2M545.3,161.8h2" stroke="#000" stroke-width="0.55"/><circle cx="546.3" cy="154.4" r="2.08" fill="#000"/><path d="M558.1,156.2V169.6" stroke="#000" stroke-width="0.85"/><path d="M557.1,156.2h2M557.1,169.6h2" stroke="#000" stroke-width="0.55"/><circle cx="558.1" cy="161.8" r="2.08" fill="#000"/><path d="M569.8,157.9V175.0" stroke="#000" stroke-width="0.85"/><path d="M568.8,157.9h2M568.8,175.0h2" stroke="#000" stroke-width="0.55"/><circle cx="569.8" cy="164.5" r="2.08" fill="#000"/><path d="M581.4,175.0V230.0" stroke="#000" stroke-width="0.85"/><path d="M580.4,175.0h2M580.4,230.0h2" stroke="#000" stroke-width="0.55"/><circle cx="581.4" cy="190.6" r="2.08" fill="#000"/><path d="M593.1,180.6V230.0" stroke="#000" stroke-width="0.85"/><path d="M592.1,180.6h2M592.1,230.0h2" stroke="#000" stroke-width="0.55"/><circle cx="593.1" cy="190.6" r="2.08" fill="#000"/><path d="M604.9,164.9V185.6" stroke="#000" stroke-width="0.85"/><path d="M603.9,164.9h2M603.9,185.6h2" stroke="#000" stroke-width="0.55"/><circle cx="604.9" cy="172.2" r="2.08" fill="#000"/></g>
<rect x="353.0" y="43.5" width="257.80" height="169.80" fill="none" stroke="#1a1a1a" stroke-width="0.85"/>
<path d="M411.90,213.3v-2.5M411.90,43.5v2.5M470.40,213.3v-2.5M470.40,43.5v2.5M528.90,213.3v-2.5M528.90,43.5v2.5M587.40,213.3v-2.5M587.40,43.5v2.5M353.0,180.65h2.5M610.8,180.65h-2.5M353.0,148.10h2.5M610.8,148.10h-2.5M353.0,115.55h2.5M610.8,115.55h-2.5M353.0,83.00h2.5M610.8,83.00h-2.5M353.0,50.45h2.5M610.8,50.45h-2.5" stroke="#000" stroke-width="0.85" fill="none"/>
<path d="M365.10,213.3v-1.5M365.10,43.5v1.5M376.80,213.3v-1.5M376.80,43.5v1.5M388.50,213.3v-1.5M388.50,43.5v1.5M400.20,213.3v-1.5M400.20,43.5v1.5M423.60,213.3v-1.5M423.60,43.5v1.5M435.30,213.3v-1.5M435.30,43.5v1.5M447.00,213.3v-1.5M447.00,43.5v1.5M458.70,213.3v-1.5M458.70,43.5v1.5M482.10,213.3v-1.5M482.10,43.5v1.5M493.80,213.3v-1.5M493.80,43.5v1.5M505.50,213.3v-1.5M505.50,43.5v1.5M517.20,213.3v-1.5M517.20,43.5v1.5M540.60,213.3v-1.5M540.60,43.5v1.5M552.30,213.3v-1.5M552.30,43.5v1.5M564.00,213.3v-1.5M564.00,43.5v1.5M575.70,213.3v-1.5M575.70,43.5v1.5M599.10,213.3v-1.5M599.10,43.5v1.5M353.0,203.40h1.5M610.8,203.40h-1.5M353.0,197.67h1.5M610.8,197.67h-1.5M353.0,193.60h1.5M610.8,193.60h-1.5M353.0,190.45h1.5M610.8,190.45h-1.5M353.0,187.87h1.5M610.8,187.87h-1.5M353.0,185.69h1.5M610.8,185.69h-1.5M353.0,183.80h1.5M610.8,183.80h-1.5M353.0,182.14h1.5M610.8,182.14h-1.5M353.0,170.85h1.5M610.8,170.85h-1.5M353.0,165.12h1.5M610.8,165.12h-1.5M353.0,161.05h1.5M610.8,161.05h-1.5M353.0,157.90h1.5M610.8,157.90h-1.5M353.0,155.32h1.5M610.8,155.32h-1.5M353.0,153.14h1.5M610.8,153.14h-1.5M353.0,151.25h1.5M610.8,151.25h-1.5M353.0,149.59h1.5M610.8,149.59h-1.5M353.0,138.30h1.5M610.8,138.30h-1.5M353.0,132.57h1.5M610.8,132.57h-1.5M353.0,128.50h1.5M610.8,128.50h-1.5M353.0,125.35h1.5M610.8,125.35h-1.5M353.0,122.77h1.5M610.8,122.77h-1.5M353.0,120.59h1.5M610.8,120.59h-1.5M353.0,118.70h1.5M610.8,118.70h-1.5M353.0,117.04h1.5M610.8,117.04h-1.5M353.0,105.75h1.5M610.8,105.75h-1.5M353.0,100.02h1.5M610.8,100.02h-1.5M353.0,95.95h1.5M610.8,95.95h-1.5M353.0,92.80h1.5M610.8,92.80h-1.5M353.0,90.22h1.5M610.8,90.22h-1.5M353.0,88.04h1.5M610.8,88.04h-1.5M353.0,86.15h1.5M610.8,86.15h-1.5M353.0,84.49h1.5M610.8,84.49h-1.5M353.0,73.20h1.5M610.8,73.20h-1.5M353.0,67.47h1.5M610.8,67.47h-1.5M353.0,63.40h1.5M610.8,63.40h-1.5M353.0,60.25h1.5M610.8,60.25h-1.5M353.0,57.67h1.5M610.8,57.67h-1.5M353.0,55.49h1.5M610.8,55.49h-1.5M353.0,53.60h1.5M610.8,53.60h-1.5M353.0,51.94h1.5M610.8,51.94h-1.5" stroke="#000" stroke-width="0.6" fill="none"/>
<text x="411.9" y="220.9" font-size="8.3" text-anchor="middle">1</text>
<text x="470.4" y="220.9" font-size="8.3" text-anchor="middle">2</text>
<text x="528.9" y="220.9" font-size="8.3" text-anchor="middle">3</text>
<text x="587.4" y="220.9" font-size="8.3" text-anchor="middle">4</text>
<text x="351.7" y="53.9" font-size="8.3" text-anchor="end">10<tspan dy="-3.9" font-size="5.8">1</tspan></text>
<text x="351.7" y="87.0" font-size="8.3" text-anchor="end">10<tspan dy="-3.9" font-size="5.8">0</tspan></text>
<text x="351.7" y="119.9" font-size="8.3" text-anchor="end">10<tspan dy="-3.9" font-size="5.8">−1</tspan></text>
<text x="351.7" y="152.0" font-size="8.3" text-anchor="end">10<tspan dy="-3.9" font-size="5.8">−2</tspan></text>
<text x="351.7" y="184.9" font-size="8.3" text-anchor="end">10<tspan dy="-3.9" font-size="5.8">−3</tspan></text>
<path d="M498.1,68.9H522.0" stroke="#0000ff" stroke-width="1.3"/>
<path d="M498.0,85.5H520.9" stroke="#ff0000" stroke-width="1.2" stroke-dasharray="1.3 1.5 3.5 1.5"/>
<path d="M498.0,102H521.5" stroke="#000" stroke-width="1.2" stroke-dasharray="1.4 1.7"/>
<text x="527.6" y="71.3" font-size="10.1" textLength="19.4" lengthAdjust="spacingAndGlyphs">NLO</text>
<text x="527.6" y="87.8" font-size="10.1" textLength="57.8" lengthAdjust="spacingAndGlyphs">NLL matched</text>
<text x="527.6" y="104.8" font-size="10.1" textLength="62.8" lengthAdjust="spacingAndGlyphs">NLL expanded</text>
<text x="420.8" y="39.4" font-size="10.1" textLength="24.8" lengthAdjust="spacingAndGlyphs">E288,</text>
<text transform="translate(451.75,39.95) scale(0.8,1)" font-size="12">√</text>
<path d="M456.3,30.75H465.9" stroke="#000" stroke-width="0.8"/>
<text x="459.3" y="39.4" font-size="10.1" textLength="4.8" lengthAdjust="spacingAndGlyphs">s</text>
<text x="467.7" y="39.4" font-size="10.1" textLength="48.4" lengthAdjust="spacingAndGlyphs">=27.4 GeV,</text>
<text x="522.1" y="39.4" font-size="10.1" textLength="29.7" lengthAdjust="spacingAndGlyphs">y=0.03</text>
<text x="461.5" y="234.1" font-size="10.1">q<tspan dy="1.0" font-size="7">T</tspan></text>
<text x="477.4" y="234.1" font-size="10.1" textLength="25" lengthAdjust="spacingAndGlyphs">[GeV]</text>
<text x="371.0" y="194.6" font-size="10.1" textLength="48.8" lengthAdjust="spacingAndGlyphs">Q=6.5 GeV</text>
</svg>
</body></html>
